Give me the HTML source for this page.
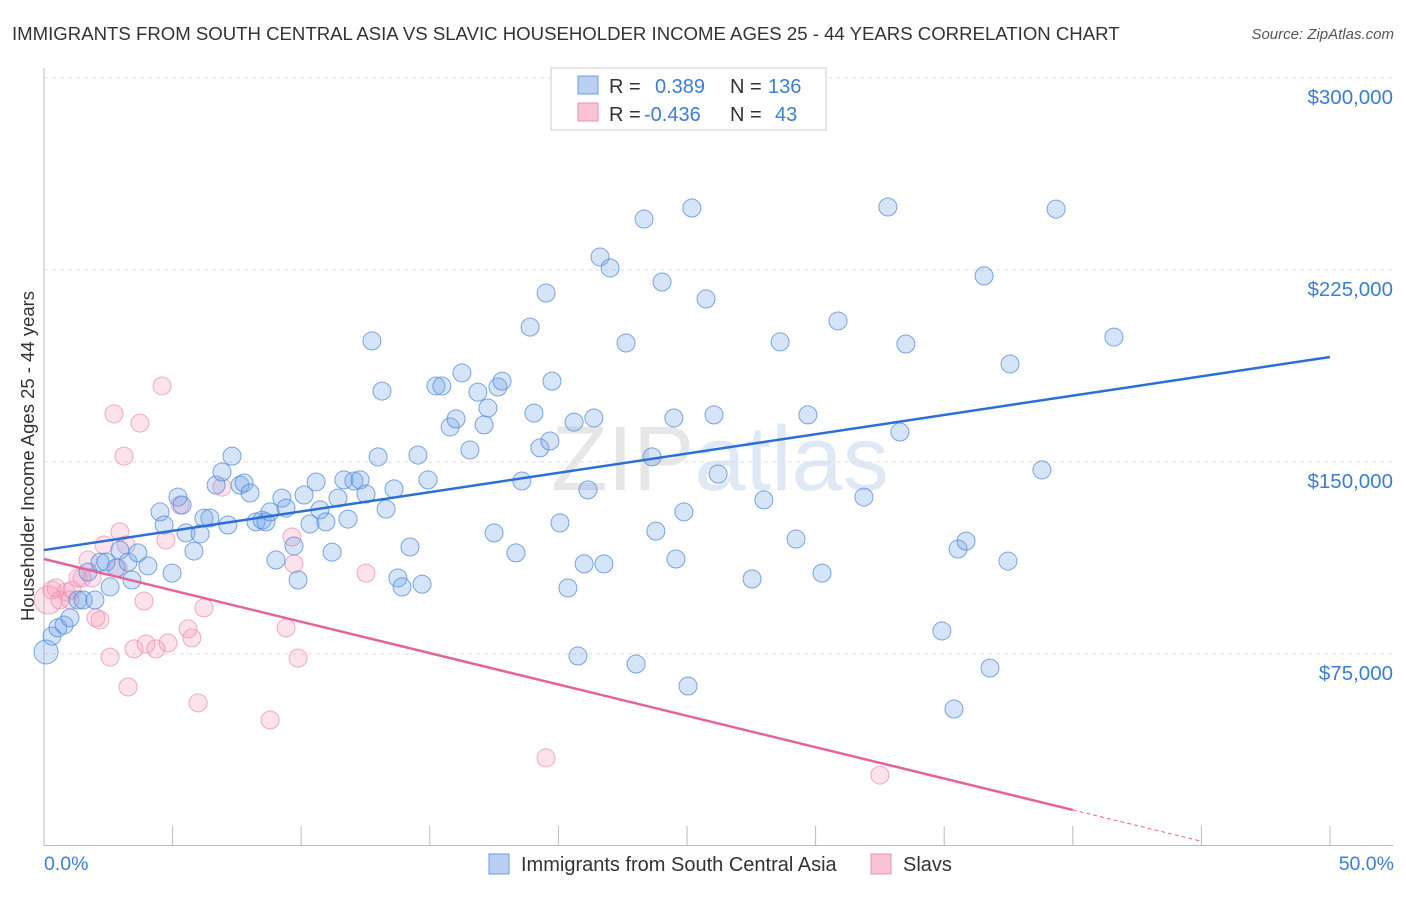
<!DOCTYPE html>
<html><head><meta charset="utf-8"><style>
body{margin:0;background:#fff;font-family:"Liberation Sans",sans-serif}
svg text{font-family:"Liberation Sans",sans-serif}
</style></head><body>
<svg id="c" width="1406" height="892" xmlns="http://www.w3.org/2000/svg">
<text x="12" y="40" font-size="18.6" fill="#333">IMMIGRANTS FROM SOUTH CENTRAL ASIA VS SLAVIC HOUSEHOLDER INCOME AGES 25 - 44 YEARS CORRELATION CHART</text>
<text x="1394" y="39" font-size="15" fill="#555" font-style="italic" text-anchor="end">Source: ZipAtlas.com</text>
<text x="720" y="490" font-size="92" fill="#e6e6e6" text-anchor="middle" font-family="Liberation Serif">ZIP<tspan fill="#dfe8f5" font-family="Liberation Sans">atlas</tspan></text>
<text transform="translate(34,456) rotate(-90)" font-size="18.5" fill="#333" text-anchor="middle">Householder Income Ages 25 - 44 years</text>
<g id="grid"></g><g id="pts"></g><g id="lines"></g>
<g>
<rect x="551" y="68" width="275" height="62" fill="#fff" stroke="#ccc"/>
<rect x="578" y="76" width="20" height="18" fill="#b9d0f3" stroke="#6a9be0"/>
<rect x="578" y="103" width="20" height="18" fill="#f8c4d5" stroke="#ea95b2"/>
<text x="609" y="93" font-size="20" fill="#333">R = <tspan fill="#3b7dd8" x="655">0.389</tspan><tspan x="730">N = </tspan><tspan fill="#3b7dd8" x="768">136</tspan></text>
<text x="609" y="121" font-size="20" fill="#333">R = <tspan fill="#3b7dd8" x="644">-0.436</tspan><tspan x="730">N = </tspan><tspan fill="#3b7dd8" x="775">43</tspan></text>
</g>
<g>
<rect x="489" y="854" width="20" height="20" fill="#b9d0f3" stroke="#6a9be0"/>
<text x="521" y="871" font-size="20" fill="#333">Immigrants from South Central Asia</text>
<rect x="871" y="854" width="20" height="20" fill="#f8c4d5" stroke="#ea95b2"/>
<text x="903" y="871" font-size="20" fill="#333">Slavs</text>
</g>
<text x="44" y="870" font-size="19.5" fill="#3b7dd8">0.0%</text>
<text x="1394" y="870" font-size="19.5" fill="#3b7dd8" text-anchor="end">50.0%</text>
</svg>
<script>
const yTicks=[75,150,225,300];
const yTickLabels=["$75,000","$150,000","$225,000","$300,000"];
const xTicks=[0,5,10,15,20,25,30,35,40,45,50];
const blueX=[0.08,0.31,0.54,0.78,1.01,1.32,1.52,1.71,1.98,2.18,2.41,2.57,2.80,2.95,3.27,3.42,3.65,4.04,4.51,4.67,4.98,5.21,5.37,5.52,5.83,6.07,6.22,6.45,6.69,6.92,7.15,7.31,7.62,7.78,8.01,8.24,8.48,8.63,8.79,9.02,9.25,9.41,9.72,9.88,10.11,10.34,10.58,10.73,10.96,11.20,11.43,11.66,11.82,12.05,12.29,12.52,12.75,12.99,13.14,13.30,13.61,13.76,13.92,14.23,14.54,14.70,14.93,15.24,15.47,15.79,16.02,16.25,16.56,16.87,17.11,17.26,17.50,17.65,17.81,18.35,18.58,18.90,19.05,19.28,19.52,19.67,19.75,20.06,20.37,20.61,20.76,21.00,21.15,21.38,21.62,21.77,22.01,22.63,23.02,23.33,23.64,23.79,24.03,24.49,24.57,24.88,25.04,25.19,25.74,26.05,26.21,27.53,27.99,28.62,29.24,29.70,30.25,30.87,31.88,32.81,33.28,33.51,34.91,35.38,35.54,35.85,36.55,36.78,37.48,37.56,38.80,39.35,41.60];
const blueY=[75.8,82.0,85.2,86.3,89.1,96.1,96.1,107.0,96.1,110.9,110.9,101.2,108.6,115.6,110.9,103.9,114.5,109.4,130.5,125.4,106.6,136.3,133.2,122.3,115.2,121.9,128.1,128.1,141.0,146.1,125.4,152.3,141.0,141.8,137.9,126.6,127.3,126.6,130.5,111.7,135.9,132.0,117.2,103.9,137.1,125.8,142.2,131.3,126.6,114.8,135.9,143.0,127.7,142.6,143.0,137.5,197.3,152.0,177.7,131.6,139.5,104.7,101.2,116.8,152.7,102.3,143.0,179.7,179.7,163.7,166.8,184.8,154.7,177.3,164.5,171.1,122.3,179.3,181.6,114.5,142.6,202.7,169.1,155.5,216.0,158.2,181.6,126.2,100.8,165.6,74.2,110.2,139.1,167.2,230.1,110.2,225.8,196.5,71.1,244.9,152.0,123.0,220.3,167.2,112.1,130.5,62.5,249.2,213.7,168.4,145.3,104.3,135.2,196.9,119.9,168.4,106.6,205.1,136.3,249.6,161.7,196.1,84.0,53.5,116.0,119.1,222.7,69.5,111.3,188.3,146.9,248.8,198.8];
const pinkX=[0.16,0.31,0.62,0.86,1.09,1.32,1.48,1.71,1.87,2.02,2.18,2.33,2.57,2.72,2.88,3.11,3.19,3.27,3.50,3.73,3.89,3.97,4.35,4.59,4.74,4.82,5.29,5.60,5.75,5.99,6.22,6.92,8.79,9.41,9.64,9.72,9.88,12.52,19.52,32.50,2.95,1.01,0.47];
const pinkY=[96.1,100.0,96.1,99.2,100.0,104.7,104.7,111.7,104.7,89.1,88.3,117.6,73.8,168.8,108.6,152.3,117.6,62.1,77.0,165.2,95.7,78.9,77.0,179.7,119.5,79.3,133.2,84.8,81.3,55.9,93.0,140.2,49.2,85.2,120.7,110.2,73.4,106.6,34.4,27.7,122.7,96.1,100.8];
const blueTrend=[115.6,191.0];
const pinkTrend=[112.1,-2.45];
const NS='http://www.w3.org/2000/svg';
const X=v=>44+v*25.72, Y=v=>846-v*2.56;
function mk(tag,attrs,parent){const e=document.createElementNS(NS,tag);for(const k in attrs)e.setAttribute(k,attrs[k]);parent.appendChild(e);return e;}
const grid=document.getElementById('grid'),pts=document.getElementById('pts'),lines=document.getElementById('lines');
mk('line',{x1:44,y1:68,x2:44,y2:846,stroke:'#bbb'},grid);
mk('line',{x1:44,y1:845.5,x2:1393,y2:845.5,stroke:'#bbb'},grid);
yTicks.forEach((t,i)=>{
 const l=mk('line',{x1:44,y1:Y(t),x2:1393,y2:Y(t),stroke:'#ddd','stroke-dasharray':'4,4'},grid);
 
 
 const tx=mk('text',{x:1393,y:Y(t)+26,'font-size':20.5,fill:'#3b7dd8','text-anchor':'end'},grid);
 tx.textContent=yTickLabels[i];
 
 
});
xTicks.forEach(t=>{
 const l=mk('line',{x1:X(t),y1:826,x2:X(t),y2:846,stroke:'#bbb'},grid);
 
 
});
pinkX.forEach((x,i)=>{
 const c=mk('circle',{cx:X(x),cy:Y(pinkY[i]),r:i==0?14:9,fill:'rgba(244,160,188,0.3)',stroke:'rgba(235,140,172,0.7)','stroke-width':1},pts);
 
 
});
blueX.forEach((x,i)=>{
 const c=mk('circle',{cx:X(x),cy:Y(blueY[i]),r:i==0?12:9,fill:'rgba(120,165,232,0.3)',stroke:'rgba(80,138,218,0.75)','stroke-width':1},pts);
 
 
});
const bl=mk('line',{x1:X(0),y1:Y(blueTrend[0]),x2:X(50),y2:Y(blueTrend[1]),stroke:'#2a6fd6','stroke-width':2.5},lines);


const pf=x=>pinkTrend[0]+pinkTrend[1]*x;
const pl=mk('line',{x1:X(0),y1:Y(pf(0)),x2:X(40),y2:Y(pf(40)),stroke:'#e4649a','stroke-width':2.5},lines);


const pd=mk('line',{x1:X(40),y1:Y(pf(40)),x2:X(45),y2:Y(pf(45)),stroke:'#e4649a','stroke-width':1,'stroke-dasharray':'4,3'},lines);


</script>
</body></html>
